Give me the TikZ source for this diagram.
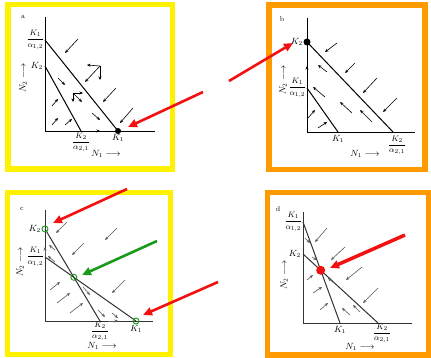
\documentclass[tikz,border=0pt]{standalone}
\usepackage{amsmath, amssymb}
\usetikzlibrary{positioning, arrows.meta}

\definecolor{frameyellow}{HTML}{FFF200}
\definecolor{frameorange}{HTML}{FF9A00}
\definecolor{pointred}{HTML}{F21010}
\definecolor{pointgreen}{HTML}{1A9A1A}

\begin{document}
\begin{tikzpicture}[
  x=1pt, y=-1pt,
  every node/.style={font=\small, inner sep=1pt},
  frac/.style={font=\footnotesize, inner sep=0.5pt},
  yframe/.style={draw=frameyellow, line width=5.5pt},
  oframe/.style={draw=frameorange, line width=5.5pt},
  ax/.style={line width=0.8pt},
  iso/.style={line width=1pt},
  fld/.style={-{Stealth[length=3.5pt,width=3pt]}, line width=0.6pt},
  gfld/.style={fld, draw=black!65},
  pointer/.style={-{Triangle[length=9pt,width=8pt]}, line width=2.6pt, draw=pointred, fill=pointred},
  tag/.style={font=\scriptsize}
]
  \useasboundingbox (0,0) rectangle (431,358);
  \fill[white] (0,0) rectangle (431,358);

  % frames
  \draw[yframe] (8,4.5) rectangle (172.5,169);
  \draw[oframe] (269,5) rectangle (425,169.5);
  \draw[yframe] (7.5,192.5) rectangle (170.5,354.5);
  \draw[oframe] (267.5,192.5) rectangle (428.5,355);

  % panel a
  \coordinate (aO)   at (45,131);
  \coordinate (aTop) at (45,17);
  \coordinate (aEnd) at (155,131);
  \coordinate (aK1a) at (45,40);
  \coordinate (aK2)  at (45,66);
  \coordinate (aK1)  at (118,131);
  \coordinate (aK2a) at (81,131);
  \draw[ax] (aTop) -- (aO) -- (aEnd);
  \draw[iso] (aK1a) -- (aK1);
  \draw[iso] (aK2) -- (aK2a);
  \fill (aK1) circle (3pt);
  \node[tag] (atag) at (23,17) {a};
  \node[frac, left=0pt of aK1a] (aL1) {$\dfrac{K_1}{\alpha_{1,2}}$};
  \node[left=1pt of aK2]  (aL2) {$K_2$};
  \node[frac, below=1pt of aK2a] (aL3) {$\dfrac{K_2}{\alpha_{2,1}}$};
  \node[below=2pt of aK1] (aL4) {$K_1$};
  \node (aN1) at (106,154) {$N_1 \longrightarrow$};
  \node[rotate=90] (aN2) at (23,78) {$N_2 \longrightarrow$};
  \foreach \xa/\ya/\xb/\yb in {78/39/65/53, 116/88/103/102, 133/108/120/123,
                     58/78/65/85, 92/113/100/120,
                     52/106/58/99, 52/125/58/118, 65/125/72/119,
                     100/66/87/65, 100/66/100/80, 100/66/85/82,
                     73/93/83/93, 73/93/73/102, 73/93/82/102,
                     90/131/100/131}
    \draw[fld] (\xa,\ya) -- (\xb,\yb);

  % panel b
  \coordinate (bO)   at (307,132);
  \coordinate (bTop) at (307,18);
  \coordinate (bEnd) at (415,132);
  \coordinate (bK2)  at (307,42);
  \coordinate (bK1a) at (307,88);
  \coordinate (bK1)  at (338,132);
  \coordinate (bK2a) at (393,132);
  \draw[ax] (bTop) -- (bO) -- (bEnd);
  \draw[iso] (bK2) -- (bK2a);
  \draw[iso] (bK1a) -- (bK1);
  \fill (bK2) circle (3.5pt);
  \node[tag] (btag) at (282,19) {b};
  \node[left=3pt of bK2] (bL1) {$K_2$};
  \node[frac, left=0pt of bK1a] (bL2) {$\dfrac{K_1}{\alpha_{1,2}}$};
  \node[below=2pt of bK1] (bL3) {$K_1$};
  \node[frac, below=3pt of bK2a, xshift=4pt] (bL4) {$\dfrac{K_2}{\alpha_{2,1}}$};
  \node (bN1) at (365,154) {$N_1 \longrightarrow$};
  \node[rotate=90] (bN2) at (283,80) {$N_2 \longrightarrow$};
  \foreach \xa/\ya/\xb/\yb in {337/43/325/52, 355/63/345/73, 377/78/363/93, 397/98/383/112,
                     327/72/318/65, 325/97/313/87, 352/113/340/102, 372/122/360/110,
                     308/118/315/110, 318/128/327/122,
                     307/76/307/66}
    \draw[fld] (\xa,\ya) -- (\xb,\yb);

  % panel c
  \coordinate (cO)   at (45,321);
  \coordinate (cTop) at (45,210);
  \coordinate (cEnd) at (153,321);
  \coordinate (cK2)  at (45,229);
  \coordinate (cK1a) at (45,257);
  \coordinate (cK2a) at (100,321);
  \coordinate (cK1)  at (136,321);
  \coordinate (cX) at (intersection of cK2--cK2a and cK1a--cK1);
  \draw[ax, black!80] (cTop) -- (cO) -- (cEnd);
  \draw[iso, black!80] (cK2) -- (cK2a);
  \draw[iso, black!80] (cK1a) -- (cK1);
  \foreach \p in {cK2, cX, cK1}
    \draw[pointgreen, line width=0.9pt] (\p) circle (3pt);
  \node[tag] (ctag) at (22,209) {c};
  \node[left=3pt of cK2] (cL1) {$K_2$};
  \node[frac, left=0pt of cK1a] (cL2) {$\dfrac{K_1}{\alpha_{1,2}}$};
  \node[frac, below=0pt of cK2a] (cL3) {$\dfrac{K_2}{\alpha_{2,1}}$};
  \node[below=3pt of cK1] (cL4) {$K_1$};
  \node (cN1) at (102,346) {$N_1 \longrightarrow$};
  \node[rotate=90] (cN2) at (20,262) {$N_2 \longrightarrow$};
  \foreach \xa/\ya/\xb/\yb in {67/222/56/233, 117/228/105/240, 84/243/72/255, 125/280/112/293,
                     55/250/49/245, 55/262/48/256, 45/257/45/247,
                     50/290/60/282, 57/303/70/293, 70/313/83/303,
                     83/287/90/295, 98/310/105/317, 112/313/118/318,
                     108/321/118/321}
    \draw[gfld] (\xa,\ya) -- (\xb,\yb);

  % panel d
  \coordinate (dO)   at (303,323);
  \coordinate (dTop) at (303,212);
  \coordinate (dEnd) at (412,323);
  \coordinate (dK1a) at (303,222);
  \coordinate (dK2)  at (303,254);
  \coordinate (dK1)  at (340,323);
  \coordinate (dK2a) at (378,323);
  \coordinate (dX) at (intersection of dK1a--dK1 and dK2--dK2a);
  \draw[ax, black!80] (dTop) -- (dO) -- (dEnd);
  \draw[iso, black!80] (dK1a) -- (dK1);
  \draw[iso, black!80] (dK2) -- (dK2a);
  \fill[pointred] (dX) circle (4.5pt);
  \node[tag] (dtag) at (278,209) {d};
  \node[frac, left=0pt of dK1a] (dL1) {$\dfrac{K_1}{\alpha_{1,2}}$};
  \node[left=1pt of dK2] (dL2) {$K_2$};
  \node[below=2pt of dK1] (dL3) {$K_1$};
  \node[frac, below=0pt of dK2a, xshift=4pt] (dL4) {$\dfrac{K_2}{\alpha_{2,1}}$};
  \node (dN1) at (360,347) {$N_1 \longrightarrow$};
  \node[rotate=90] (dN2) at (284,275) {$N_2 \longrightarrow$};
  \foreach \xa/\ya/\xb/\yb in {327/228/315/242, 345/247/331/260, 362/267/346/280, 378/288/363/303,
                     305/238/310/243, 312/257/317/260,
                     307/280/313/275, 313/293/322/287, 320/310/328/303,
                     350/315/342/308, 360/312/353/305, 334/283/328/278}
    \draw[gfld] (\xa,\ya) -- (\xb,\yb);

  % pointers
  \coordinate (pa) at (203,92);
  \coordinate (pb) at (229,81);
  \coordinate (pc1) at (127,189);
  \coordinate (pc2) at (218,282);
  \coordinate (pcg) at (157,241);
  \coordinate (pd) at (405,235);
  \coordinate (ta) at (128,127);
  \coordinate (tb) at (293,43);
  \coordinate (tc1) at (53,223);
  \coordinate (tc2) at (143,315);
  \coordinate (tcg) at (82,275);
  \coordinate (td) at (330,268);
  \draw[pointer] (pa) -- (ta);
  \draw[pointer] (pb) -- (tb);
  \draw[pointer] (pc1) -- (tc1);
  \draw[pointer] (pc2) -- (tc2);
  \draw[pointer, draw=pointgreen, fill=pointgreen] (pcg) -- (tcg);
  \draw[pointer, line width=3.5pt] (pd) -- (td);
\end{tikzpicture}
\end{document}
